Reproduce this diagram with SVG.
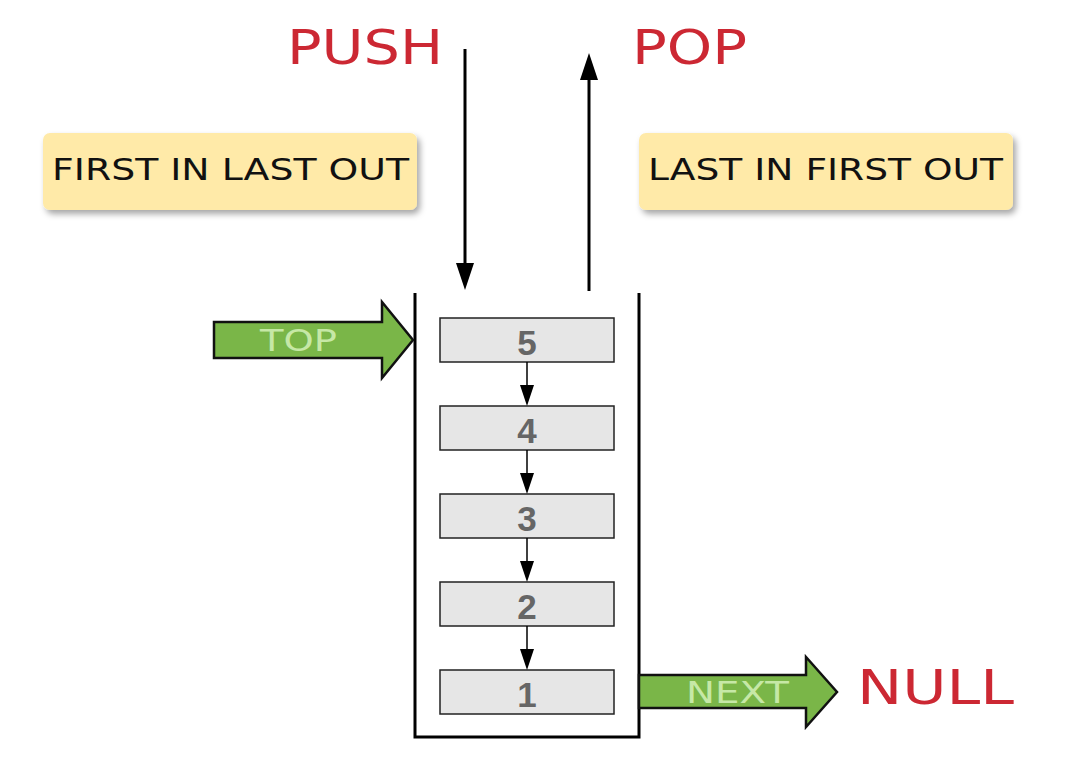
<svg xmlns="http://www.w3.org/2000/svg" width="1078" height="780" viewBox="0 0 1078 780">
<style>
.red{font-family:"DejaVu Sans","Liberation Sans",sans-serif;fill:#cc2833;font-size:48px}
.lbl{font-family:"DejaVu Sans","Liberation Sans",sans-serif;fill:#111;font-size:31px}
.grn{font-family:"DejaVu Sans","Liberation Sans",sans-serif;fill:#c6e8a6;font-size:31px}
.num{font-family:"Liberation Sans",Arial,sans-serif;font-weight:bold;fill:#666;font-size:35px;text-anchor:middle}
.node{fill:#e6e6e6;stroke:#222;stroke-width:1.5}
.ybox{fill:#ffeaa8;filter:url(#sh)}
.big{fill:#7ab648;stroke:#111;stroke-width:2.5;stroke-linejoin:miter}
.ln{stroke:#000;fill:none}
</style>
<defs>
<filter id="sh" x="-10%" y="-20%" width="130%" height="160%">
<feDropShadow dx="3" dy="4" stdDeviation="3" flood-color="#000" flood-opacity="0.35"/>
</filter>
<marker id="ah" markerWidth="14" markerHeight="20" refX="7" refY="20" orient="auto-start-reverse" markerUnits="userSpaceOnUse" viewBox="0 0 14 20">
<path d="M0,0 L14,0 L7,20 Z" fill="#000" transform="rotate(0)"/>
</marker>
</defs>
<rect width="1078" height="780" fill="#fff"/>

<g id="push-label"><text class="red" x="287" y="64" textLength="156" lengthAdjust="spacingAndGlyphs">PUSH</text></g>
<g id="pop-label"><text class="red" x="632" y="64" textLength="115" lengthAdjust="spacingAndGlyphs">POP</text></g>

<g id="filo">
<rect class="ybox" x="43" y="133" width="374" height="77" rx="7"/>
<text class="lbl" x="52" y="180" textLength="357" lengthAdjust="spacingAndGlyphs">FIRST IN LAST OUT</text>
</g>
<g id="lifo">
<rect class="ybox" x="639" y="133" width="374" height="77" rx="7"/>
<text class="lbl" x="648" y="180" textLength="355" lengthAdjust="spacingAndGlyphs">LAST IN FIRST OUT</text>
</g>

<g id="stack">
<path class="ln" d="M415,293 V737 H639 V293" stroke-width="3"/>
</g>

<g id="node5"><rect class="node" x="440" y="318" width="174" height="44"/><text class="num" x="527" y="355">5</text></g>
<g id="node4"><rect class="node" x="440" y="406" width="174" height="44"/><text class="num" x="527" y="443">4</text></g>
<g id="node3"><rect class="node" x="440" y="494" width="174" height="44"/><text class="num" x="527" y="531">3</text></g>
<g id="node2"><rect class="node" x="440" y="582" width="174" height="44"/><text class="num" x="527" y="619">2</text></g>
<g id="node1"><rect class="node" x="440" y="670" width="174" height="44"/><text class="num" x="527" y="707">1</text></g>

<g id="top-pointer">
<polygon class="big" points="214,322 382,322 382,302 413,340 382,378 382,358 214,358"/>
<text class="grn" x="260" y="351" textLength="77" lengthAdjust="spacingAndGlyphs">TOP</text>
</g>
<g id="next-pointer">
<polygon class="big" points="639,675 806,675 806,657 837,692 806,727 806,708 639,708"/>
<text class="grn" x="686" y="703" font-size="30" textLength="103" lengthAdjust="spacingAndGlyphs">NEXT</text>
</g>
<g id="null-label"><text class="red" x="857" y="704" textLength="157" lengthAdjust="spacingAndGlyphs">NULL</text></g>

<g id="connectors">
<line class="ln" x1="465" y1="49" x2="465" y2="266" stroke-width="3"/>
<polygon points="456,263 474,263 465,290" fill="#000"/>
<line class="ln" x1="589" y1="291" x2="589" y2="78" stroke-width="3"/>
<polygon points="580,80 598,80 589,53" fill="#000"/>
<line class="ln" x1="527" y1="362" x2="527" y2="388" stroke-width="1.5"/>
<polygon points="520,385 534,385 527,406" fill="#000"/>
<line class="ln" x1="527" y1="450" x2="527" y2="476" stroke-width="1.5"/>
<polygon points="520,473 534,473 527,494" fill="#000"/>
<line class="ln" x1="527" y1="538" x2="527" y2="564" stroke-width="1.5"/>
<polygon points="520,561 534,561 527,582" fill="#000"/>
<line class="ln" x1="527" y1="626" x2="527" y2="652" stroke-width="1.5"/>
<polygon points="520,649 534,649 527,670" fill="#000"/>
</g>
</svg>
